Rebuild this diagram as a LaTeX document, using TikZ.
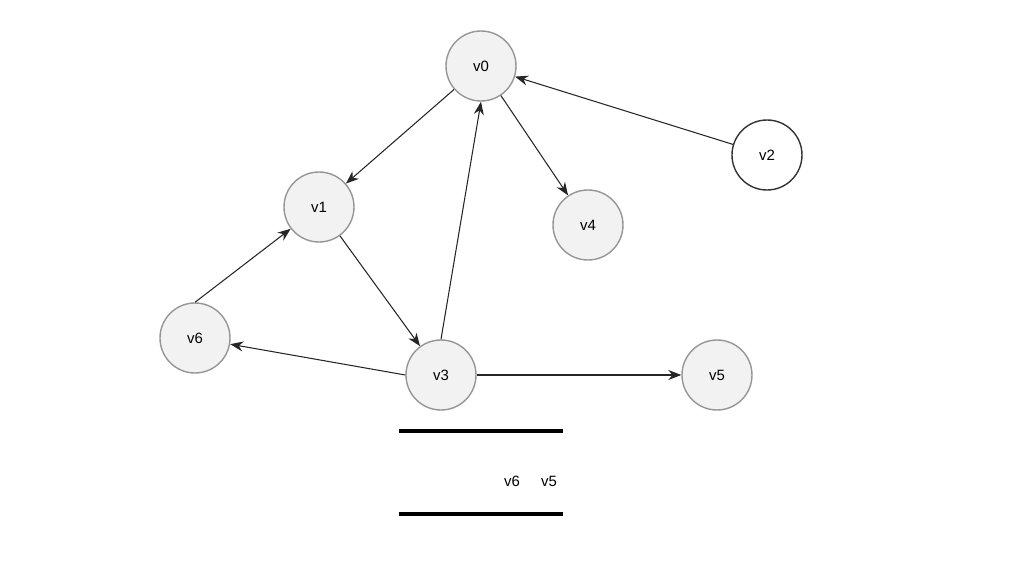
\documentclass[tikz,border=0pt]{standalone}
\usepackage{fontspec}
\setmainfont{Liberation Sans}
\usetikzlibrary{arrows.meta}
\definecolor{vfill}{RGB}{242,242,242}
\definecolor{vline}{RGB}{150,150,150}

\begin{document}
\begin{tikzpicture}[
  vertex/.style={circle, draw=vline, fill=vfill, line width=0.8pt, minimum size=1.40cm, inner sep=0pt, font=\fontsize{8.5}{10}\selectfont},
  vertexw/.style={vertex, draw=black!80, fill=white},
  edge/.style={-{Stealth[length=2.6mm, width=2mm]}, line width=0.6pt, draw=black!85}]
\useasboundingbox (0.000,0.000) rectangle (20.480,11.480);
\node[vertex]  (v0) at (9.620,10.160) {v0};
\node[vertexw] (v2) at (15.340,8.380) {v2};
\node[vertex]  (v1) at (6.380,7.340) {v1};
\node[vertex]  (v4) at (11.760,6.980) {v4};
\node[vertex]  (v6) at (3.900,4.720) {v6};
\node[vertex]  (v3) at (8.820,3.980) {v3};
\node[vertex]  (v5) at (14.340,3.980) {v5};
\draw[edge] (v0) -- (v1);
\draw[edge] (v2) -- (v0);
\draw[edge] (v0) -- (v4);
\draw[edge] (v3.north) -- (v0.south);
\draw[edge] (v6.north) -- (v1);
\draw[edge] (v1) -- (v3);
\draw[edge] (v3.west) -- (v6);
\draw[edge] (v3) -- (v5);
\draw[line width=2.2pt] (7.980,2.860) -- (11.260,2.860);
\draw[line width=2.2pt] (7.980,1.200) -- (11.260,1.200);
\node[font=\fontsize{8.5}{10}\selectfont] (q6) at (10.240,1.860) {v6};
\node[font=\fontsize{8.5}{10}\selectfont] (q5) at (10.980,1.860) {v5};
\end{tikzpicture}
\end{document}
